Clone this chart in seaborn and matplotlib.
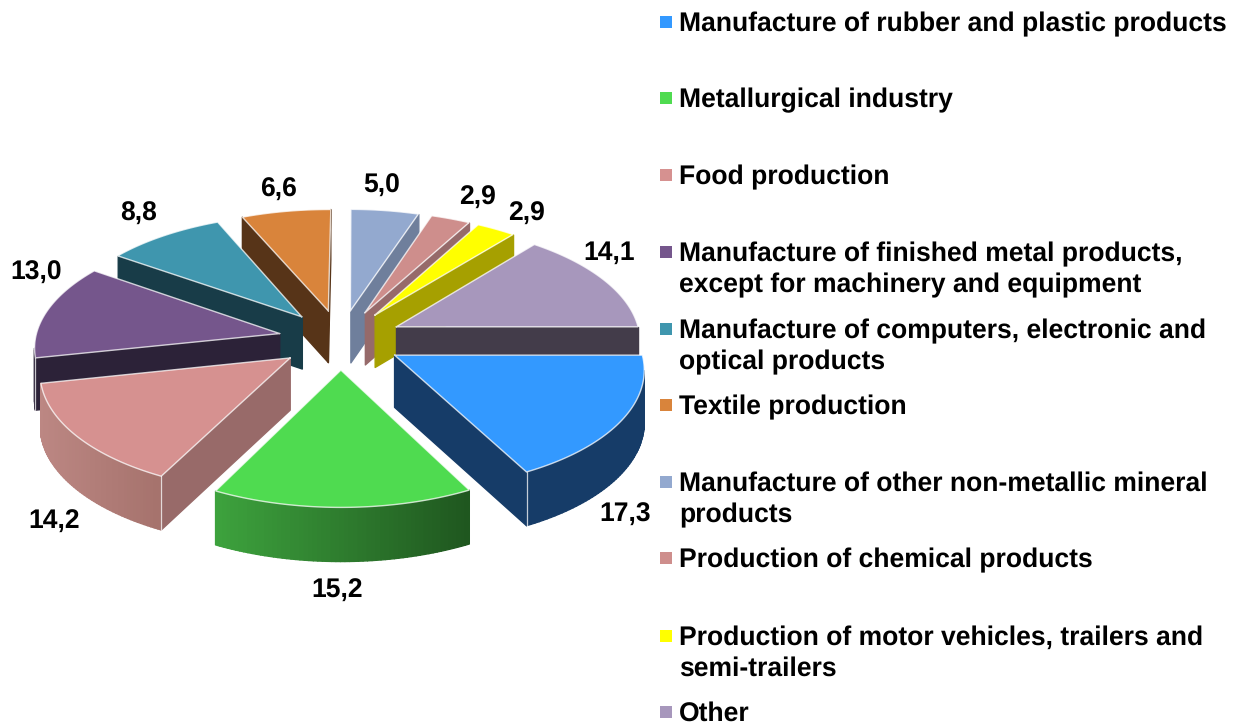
import numpy as np
import matplotlib
matplotlib.use("Agg")
import matplotlib.pyplot as plt
from matplotlib.collections import PolyCollection
from matplotlib.colors import to_rgb
import seaborn as sns

# ---- data ----
values = [17.3, 15.2, 14.2, 13.0, 8.8, 6.6, 5.0, 2.9, 2.9, 14.1]
value_labels = ["17,3", "15,2", "14,2", "13,0", "8,8", "6,6", "5,0", "2,9", "2,9", "14,1"]
categories = [
    "Manufacture of rubber and plastic products",
    "Metallurgical industry",
    "Food production",
    "Manufacture of finished metal products,\nexcept for machinery and equipment",
    "Manufacture of computers, electronic and\noptical products",
    "Textile production",
    "Manufacture of other non-metallic mineral\nproducts",
    "Production of chemical products",
    "Production of motor vehicles, trailers and\nsemi-trailers",
    "Other",
]

# ---- style ----
top_colors = ["#3399FF", "#4FDB50", "#D69190", "#75568C", "#3F96AE",
              "#D9843B", "#93A9CF", "#CE8E8C", "#FFFF00", "#A797BC"]
wall_left = ["#163C68", "#3DA23D", "#BC8783", "#2C2238", "#183C48",
             "#573418", "#6F7F9C", "#966A6A", "#A6A000", "#433C4A"]
wall_right = ["#163C68", "#1F561F", "#A5726C", "#2C2238", "#183C48",
              "#573418", "#6F7F9C", "#966A6A", "#A6A000", "#433C4A"]
radial_col = ["#163C68", "#1F561F", "#986A69", "#2C2238", "#183C48",
              "#573418", "#6F7F9C", "#966A6A", "#A6A000", "#433C4A"]
label_x = [625, 337, 54, 36, 139, 278, 382, 477, 526, 609]
label_y = [513, 589, 520, 271, 212, 188, 184, 196, 212, 251]
legend_y = [31, 107, 184, 261, 338, 414, 491, 567, 645, 721]
LINE = 31

CX, CY, RX, RY, K, EXPLODE, H = 340.5, 339.5, 244.5, 117.0, 0.1, 0.255, 52.0

sns.set_theme(style="white")
plt.rcParams["font.family"] = ["Liberation Sans", "DejaVu Sans"]
plt.rcParams["text.hinting"] = "none"
plt.rcParams["text.hinting_factor"] = 8
palette = sns.color_palette(top_colors)


def project(X, Y, z=0.0):
    s = 1.0 / (1.0 + K * np.asarray(Y))
    return CX + RX * np.asarray(X) * s, CY - RY * np.asarray(Y) * s + z * H * s ** 0.3


fig = plt.figure(figsize=(12.39, 7.26), dpi=100)
ax = fig.add_axes([0, 0, 1, 1])
ax.set_xlim(0, 1239)
ax.set_ylim(726, 0)
ax.axis("off")

total = sum(values)
edges = np.cumsum([0] + values) / total * 2 * np.pi
slices = []
for i in range(len(values)):
    a1, a0 = -edges[i], -edges[i + 1]      # clockwise from 3 o'clock
    mid = (a0 + a1) / 2
    ox, oy = EXPLODE * np.cos(mid), EXPLODE * np.sin(mid)
    th = np.linspace(a0, a1, 60)
    slices.append((oy, i, th, ox, oy))

for _, i, th, ox, oy in sorted(slices, key=lambda t: -t[0]):
    # ccw boundary: apex -> arc -> apex
    Xr, Yr = ox + np.cos(th), oy + np.sin(th)
    Xb = np.r_[ox, Xr, ox]
    Yb = np.r_[oy, Yr, oy]
    tx, ty = project(Xb, Yb, 0)
    bx, by = project(Xb, Yb, 1)
    n = len(tx)
    xmin, xmax = tx[1:-1].min(), tx[1:-1].max()
    cl, cr = np.array(to_rgb(wall_left[i])), np.array(to_rgb(wall_right[i]))
    quads, cols = [], []
    for j in range(n - 1):
        if tx[j + 1] <= tx[j]:
            continue
        quads.append([(tx[j], ty[j]), (tx[j + 1], ty[j + 1]),
                      (bx[j + 1], by[j + 1]), (bx[j], by[j])])
        if j == 0 or j == n - 2:
            cols.append(to_rgb(radial_col[i]))
        else:
            f = (tx[j] - xmin) / max(xmax - xmin, 1)
            cols.append(tuple(cl + (cr - cl) * f))
    ax.add_collection(PolyCollection(quads, facecolors=cols, edgecolors=cols,
                                     linewidths=1.0, zorder=2))
    ax.fill(tx, ty, color=palette[i], lw=0, zorder=2)
    ax.plot(tx, ty, color="white", lw=1.0, alpha=0.75, zorder=2, solid_joinstyle="miter")
    # white corner edges where visible front faces meet
    for k in (1, n - 2):
        left_face = tx[k] > tx[k - 1]
        right_face = tx[k + 1] > tx[k]
        if left_face and right_face:
            ax.plot([tx[k], bx[k]], [ty[k], by[k]], color="white", lw=0.9,
                    alpha=0.75, zorder=2)

for x, y, t in zip(label_x, label_y, value_labels):
    ax.text(x, y + 8.5, t, ha="center", va="baseline", fontsize=19.1,
            fontweight="bold", color="black", zorder=5)

for i, (y, cat) in enumerate(zip(legend_y, categories)):
    ax.scatter([666], [y - 9.5], marker="s", s=72, color=[palette[i]], linewidths=0, zorder=5)
    for j, line in enumerate(cat.split("\n")):
        ax.text(679, y + j * LINE, line, ha="left", va="baseline", fontsize=19.1,
                fontweight="bold", color="black", zorder=5)

fig.savefig("out.png", dpi=100, facecolor="white")
